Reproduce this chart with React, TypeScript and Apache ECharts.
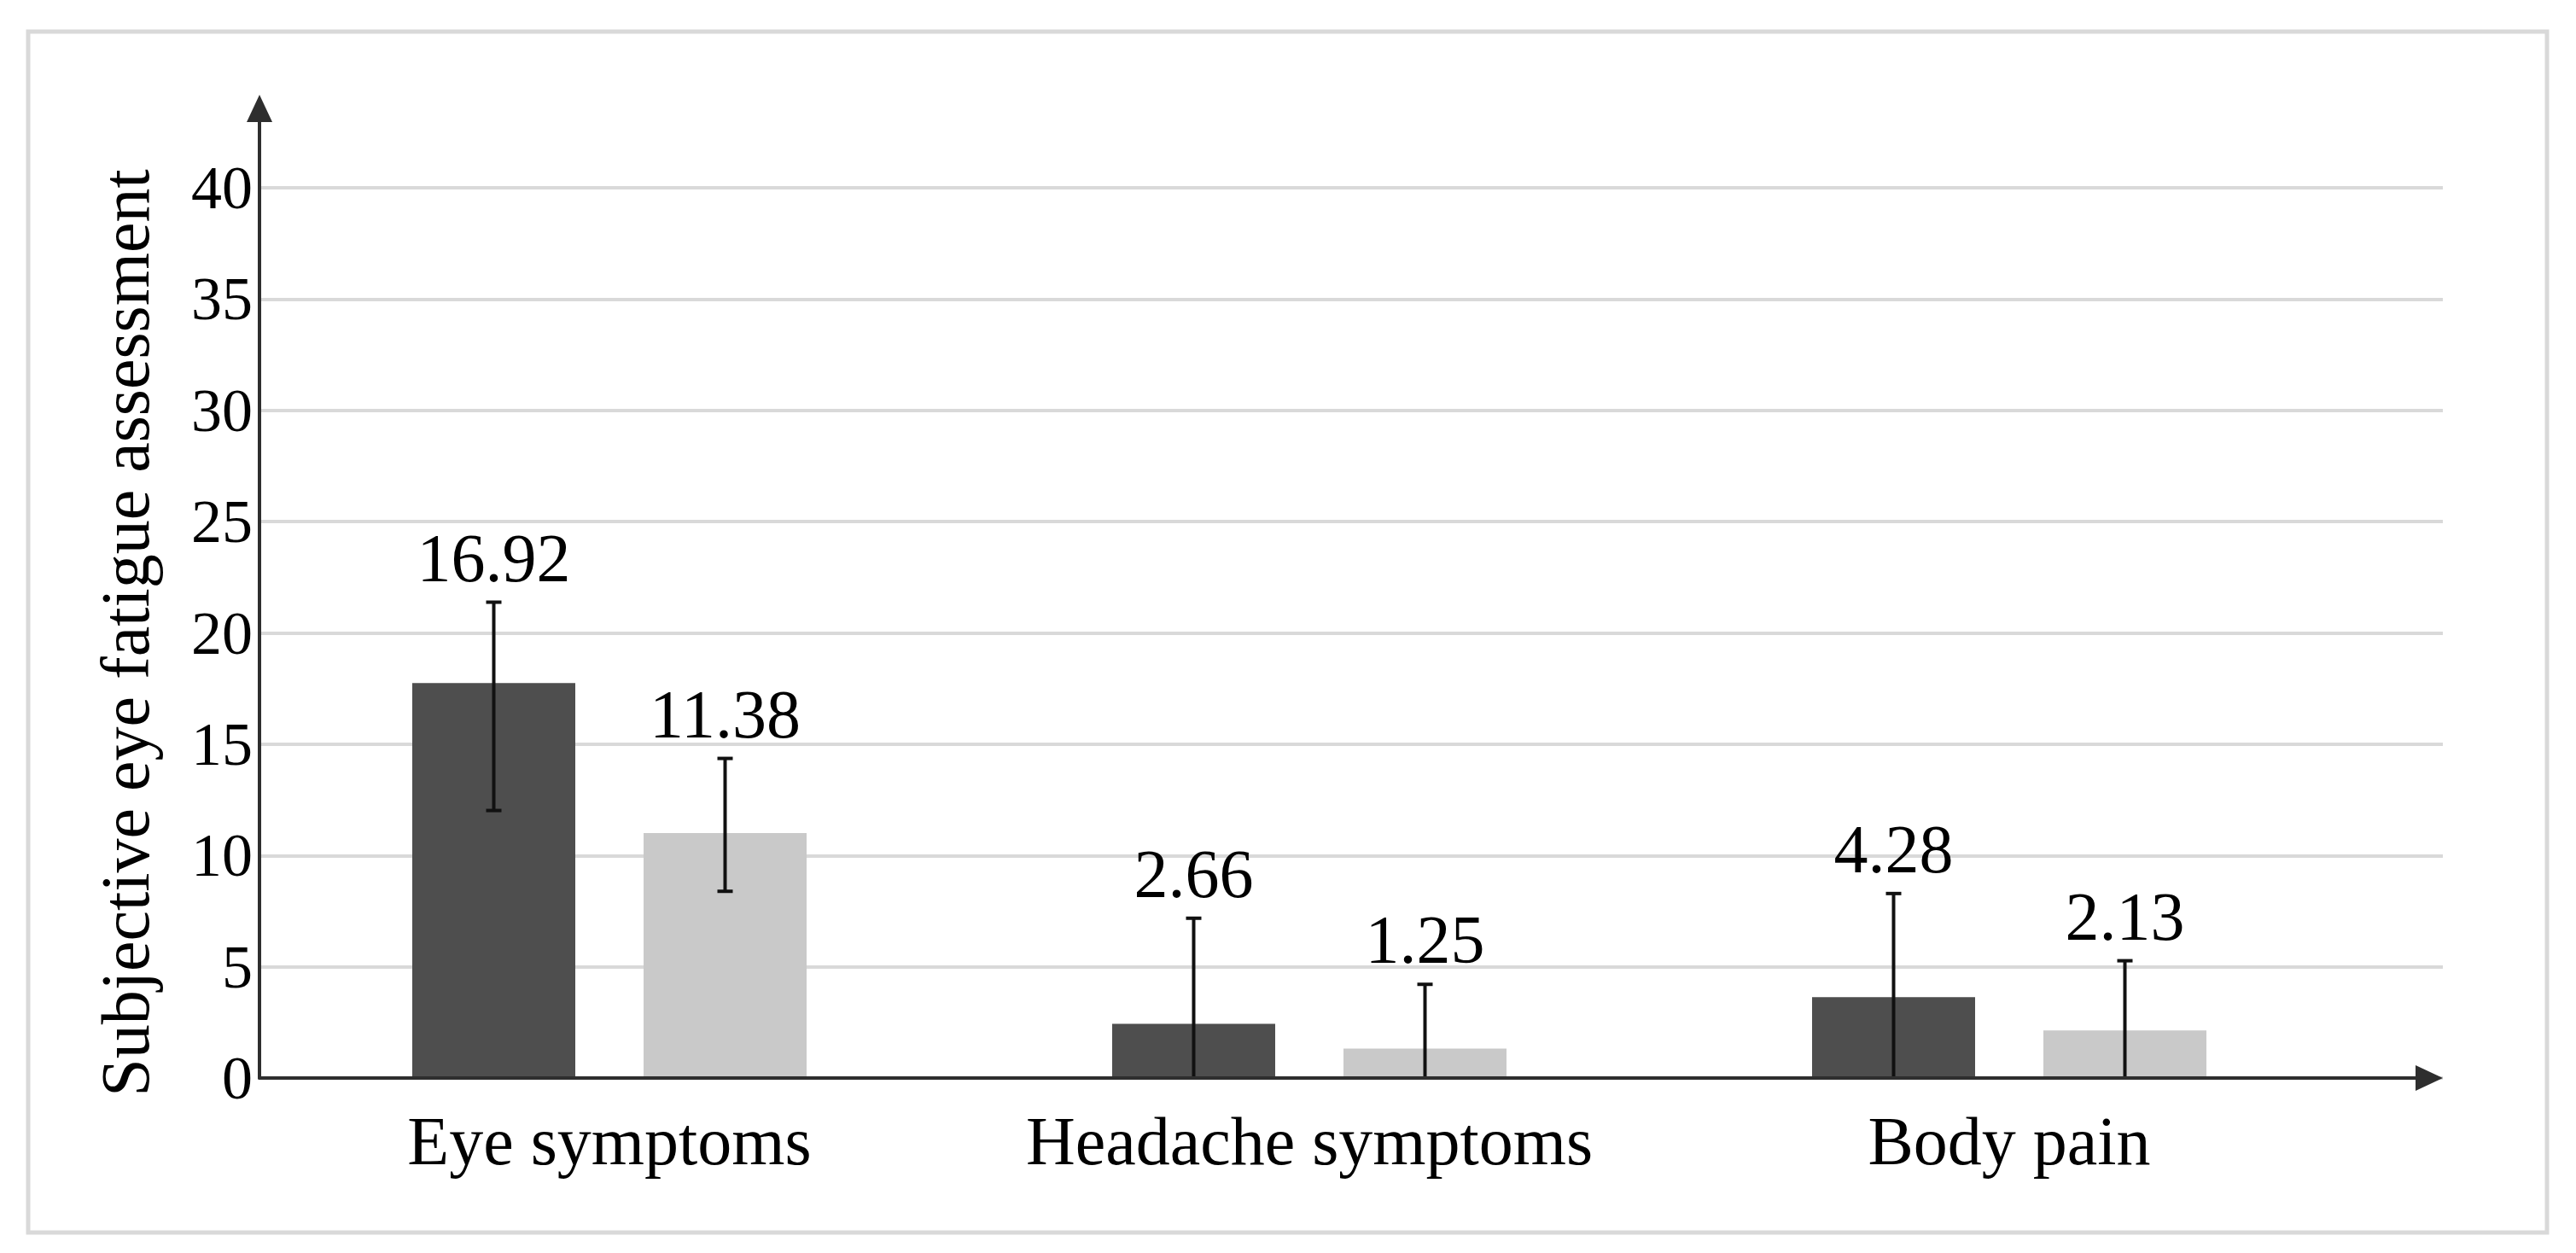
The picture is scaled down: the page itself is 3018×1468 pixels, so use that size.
import React, { useEffect, useRef } from "react";
import * as echarts from "echarts";

// ---- data ----
const categories = ["Eye symptoms", "Headache symptoms", "Body pain"];
const yAxisTitle = "Subjective eye fatigue assessment";
const yMin = 0;
const yMax = 40;
const yInterval = 5;

// bar heights as drawn
const darkBarValues = [17.75, 2.44, 3.63];
const lightBarValues = [11.01, 1.32, 2.14];
// printed labels
const darkLabels = ["16.92", "2.66", "4.28"];
const lightLabels = ["11.38", "1.25", "2.13"];
// error bar ends
const darkErrHigh = [21.38, 7.18, 8.29];
const darkErrLow = [12.02, 0, 0];
const lightErrHigh = [14.36, 4.21, 5.27];
const lightErrLow = [8.39, 0, 0];

// ---- layout ----
const W = 3018;
const H = 1468;
const AXIS_X = 304;
const ZERO_Y = 1263;
const TOP_TICK_Y = 220;
const ARROW_TIP_X = 2862;
const ARROW_TIP_Y = 111;
const ARROW_LEN = 32;
const ARROW_W = 30;
const BAND_END_X = 2764;
const BAR_W = 191;
const BAR_GAP = 80;
const FONT = "'Liberation Serif', 'Times New Roman', serif";
const DARK = "#4e4e4e";
const LIGHT = "#c9c9c9";
const AXIS_COLOR = "#2e2e2e";
const GRID_COLOR = "#d9d9d9";
const LABEL_SIZE = 80;

function errSeries(high: number[], low: number[], labels: string[], offset: number) {
  return {
    type: "custom",
    xAxisIndex: 2,
    yAxisIndex: 2,
    z: 5,
    silent: true,
    encode: { x: 0, y: [1, 2] },
    data: categories.map((_, i) => [i, high[i], low[i]]),
    renderItem: (params: any, api: any) => {
      const ci = api.value(0);
      const hi = api.value(1);
      const lo = api.value(2);
      const pTop = api.coord([ci, hi]);
      const pBot = api.coord([ci, lo]);
      const x = pTop[0] + offset;
      const cap = 9;
      const st = { stroke: "#111", lineWidth: 4 };
      return {
        type: "group",
        children: [
          { type: "line", shape: { x1: x, y1: pTop[1], x2: x, y2: pBot[1] }, style: st },
          { type: "line", shape: { x1: x - cap, y1: pTop[1], x2: x + cap, y2: pTop[1] }, style: st },
          { type: "line", shape: { x1: x - cap, y1: pBot[1], x2: x + cap, y2: pBot[1] }, style: st },
          {
            type: "text",
            style: {
              text: labels[params.dataIndex],
              x: x,
              y: pTop[1] - 12,
              align: "center",
              verticalAlign: "bottom",
              fontFamily: FONT,
              fontSize: LABEL_SIZE,
              fill: "#000",
            },
          },
        ],
      };
    },
  };
}

export default function App() {
  const ref = useRef<HTMLDivElement>(null);
  useEffect(() => {
    if (!ref.current) return;
    const chart = echarts.init(ref.current, null, { renderer: "svg" });
    const arrowAxisLine = {
      show: true,
      onZero: false,
      symbol: ["none", "triangle"],
      symbolSize: [ARROW_W, ARROW_LEN],
      lineStyle: { color: AXIS_COLOR, width: 4 },
    };
    const option: any = {
      animation: false,
      backgroundColor: "#ffffff",
      textStyle: { fontFamily: FONT },
      grid: [
        // gridlines + tick labels
        { left: AXIS_X, right: W - ARROW_TIP_X, top: TOP_TICK_Y, bottom: H - ZERO_Y, outerBoundsMode: "none", containLabel: false },
        // axis lines with arrows
        { left: AXIS_X, right: W - (ARROW_TIP_X - ARROW_LEN / 2), top: ARROW_TIP_Y + ARROW_LEN / 2, bottom: H - ZERO_Y, outerBoundsMode: "none", containLabel: false },
        // bars
        { left: AXIS_X, right: W - BAND_END_X, top: TOP_TICK_Y, bottom: H - ZERO_Y, outerBoundsMode: "none", containLabel: false },
      ],
      xAxis: [
        { gridIndex: 0, type: "value", show: false, min: 0, max: 1 },
        {
          gridIndex: 1,
          type: "value",
          min: 0,
          max: 1,
          z: 10,
          axisLine: arrowAxisLine,
          axisTick: { show: false },
          axisLabel: { show: false },
          splitLine: { show: false },
        },
        {
          gridIndex: 2,
          type: "category",
          data: categories,
          axisLine: { show: false },
          axisTick: { show: false },
          splitLine: { show: false },
          axisLabel: { color: "#000", fontFamily: FONT, fontSize: LABEL_SIZE, margin: 34, interval: 0 },
        },
      ],
      yAxis: [
        {
          gridIndex: 0,
          type: "value",
          min: yMin,
          max: yMax,
          interval: yInterval,
          name: yAxisTitle,
          nameLocation: "middle",
          nameGap: 117,
          nameTextStyle: { color: "#000", fontFamily: FONT, fontSize: LABEL_SIZE },
          axisLine: { show: false },
          axisTick: { show: false },
          axisLabel: { color: "#000", fontFamily: FONT, fontSize: 72, margin: 8 },
          splitLine: { show: true, lineStyle: { color: GRID_COLOR, width: 4 } },
        },
        {
          gridIndex: 1,
          type: "value",
          min: 0,
          max: 1,
          z: 10,
          axisLine: arrowAxisLine,
          axisTick: { show: false },
          axisLabel: { show: false },
          splitLine: { show: false },
        },
        { gridIndex: 2, type: "value", min: yMin, max: yMax, show: false },
      ],
      graphic: [
        {
          type: "rect",
          z: -10,
          shape: { x: 33, y: 37, width: 2984 - 33, height: 1444 - 37 },
          style: { fill: "none", stroke: GRID_COLOR, lineWidth: 5 },
          silent: true,
        },
      ],
      series: [
        {
          type: "bar",
          xAxisIndex: 2,
          yAxisIndex: 2,
          data: darkBarValues,
          barWidth: BAR_W,
          barGap: `${(BAR_GAP / BAR_W) * 100}%`,
          itemStyle: { color: DARK },
          silent: true,
        },
        {
          type: "bar",
          xAxisIndex: 2,
          yAxisIndex: 2,
          data: lightBarValues,
          barWidth: BAR_W,
          barGap: `${(BAR_GAP / BAR_W) * 100}%`,
          itemStyle: { color: LIGHT },
          silent: true,
        },
        errSeries(darkErrHigh, darkErrLow, darkLabels, -(BAR_W + BAR_GAP) / 2),
        errSeries(lightErrHigh, lightErrLow, lightLabels, (BAR_W + BAR_GAP) / 2),
      ],
    };
    chart.setOption(option);
    return () => chart.dispose();
  }, []);
  return (
    <div
      ref={ref}
      style={{ position: "fixed", left: 0, top: 0, width: W, height: H, background: "#fff" }}
    />
  );
}
